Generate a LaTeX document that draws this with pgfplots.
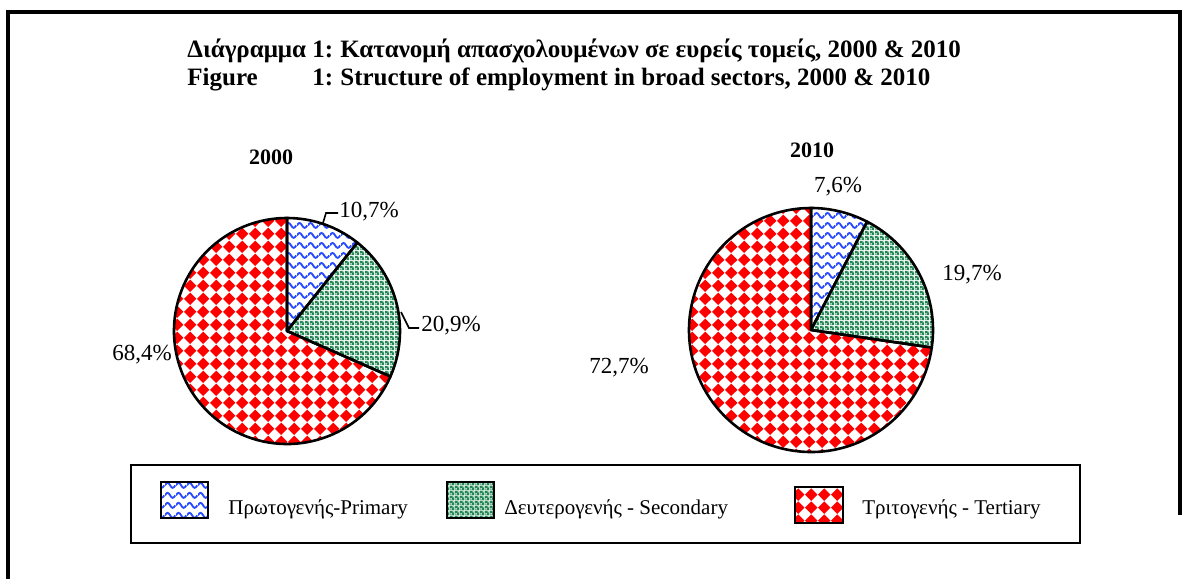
\documentclass[border=0pt]{standalone}
\usepackage{fontspec}
\setmainfont{Liberation Serif}
\usepackage{pgfplots}
\pgfplotsset{compat=1.18}
\usetikzlibrary{patterns}

\definecolor{pblue}{RGB}{40,75,255}
\definecolor{pgreen}{RGB}{35,135,85}
\definecolor{pred}{RGB}{255,0,0}

% wavy lines (primary)
\pgfdeclarepatternformonly{waves}{\pgfpointorigin}{\pgfpoint{5.5pt}{5pt}}{\pgfpoint{5.5pt}{5pt}}{%
  \pgfsetlinewidth{1pt}
  \pgfpathmoveto{\pgfpoint{0pt}{2.5pt}}
  \pgfpathcurveto{\pgfpoint{1pt}{4.3pt}}{\pgfpoint{1.75pt}{4.3pt}}{\pgfpoint{2.75pt}{2.5pt}}
  \pgfpathcurveto{\pgfpoint{3.75pt}{0.7pt}}{\pgfpoint{4.5pt}{0.7pt}}{\pgfpoint{5.5pt}{2.5pt}}
  \pgfusepath{stroke}}
% small checker board (secondary): green with small white holes
\pgfdeclarepatternformonly{checks}{\pgfpointorigin}{\pgfpoint{2.5pt}{2.5pt}}{\pgfpoint{2.5pt}{2.5pt}}{%
  \pgfseteorule
  \pgfpathrectangle{\pgfpointorigin}{\pgfpoint{2.5pt}{2.5pt}}
  \pgfpathrectangle{\pgfpoint{0.25pt}{0.25pt}}{\pgfpoint{0.8pt}{0.8pt}}
  \pgfpathrectangle{\pgfpoint{1.5pt}{1.5pt}}{\pgfpoint{0.8pt}{0.8pt}}
  \pgfusepath{fill}}
% diamonds (tertiary)
\pgfdeclarepatternformonly{diamonds}{\pgfpointorigin}{\pgfpoint{6.6pt}{6.6pt}}{\pgfpoint{6.6pt}{6.6pt}}{%
  \pgfpathmoveto{\pgfpoint{3.3pt}{0pt}}
  \pgfpathlineto{\pgfpoint{6.6pt}{3.3pt}}
  \pgfpathlineto{\pgfpoint{3.3pt}{6.6pt}}
  \pgfpathlineto{\pgfpoint{0pt}{3.3pt}}
  \pgfpathclose
  \pgfusepath{fill}}

\tikzset{
  prim/.style={pattern=waves, pattern color=pblue},
  seco/.style={pattern=checks, pattern color=pgreen},
  tert/.style={pattern=diamonds, pattern color=pred},
  wedge/.style={draw=black, line width=1.3pt, line join=round},
}
\pgfplotsset{pie/.style={hide axis, x=0.5pt, y=0.5pt, scale only axis,
  xmin=-130, xmax=130, ymin=-130, ymax=130, anchor=center, clip=false}}

% shares in percent: primary, secondary, tertiary
\def\pA{10.7}\def\sA{20.9}\def\tA{68.4}\def\rA{113}
\def\pB{7.6}\def\sB{19.7}\def\tB{72.7}\def\rB{122}

\begin{document}
\begin{tikzpicture}[x=0.5pt, y=0.5pt]
\useasboundingbox (0,0) rectangle (1187,579);

\pgfmathsetmacro\aA{90-3.6*\pA}
\pgfmathsetmacro\bA{\aA-3.6*\sA}
\pgfmathsetmacro\cA{\bA-3.6*\tA}
\pgfmathsetmacro\aB{90-3.6*\pB}
\pgfmathsetmacro\bB{\aB-3.6*\sB}
\pgfmathsetmacro\cB{\bB-3.6*\tB}

% outer frame
\draw[line width=1.6pt] (8,0) -- (8,567) -- (1180,567) -- (1180,64);

% titles
\begin{scope}[every node/.style={anchor=base west, inner sep=0pt, font=\fontsize{12.5}{15}\selectfont\bfseries}]
\node at (187,521) {Διάγραμμα};
\node at (312,521) {1:};
\node at (340,521) {Κατανομή απασχολουμένων σε ευρείς τομείς, 2000 \& 2010};
\node at (187,493) {Figure};
\node at (312,493) {1:};
\node at (340,493) {Structure of employment in broad sectors, 2000 \& 2010};
\end{scope}

% pie 2000
\begin{axis}[pie, at={(287,248)}]
\draw[wedge, prim] (axis cs:0,0) -- (axis cs:0,\rA) arc[start angle=90, end angle=\aA, radius=\rA*0.5pt] -- cycle;
\draw[wedge, seco] (axis cs:0,0) -- ++(\aA:\rA*0.5pt) arc[start angle=\aA, end angle=\bA, radius=\rA*0.5pt] -- cycle;
\draw[wedge, tert] (axis cs:0,0) -- ++(\bA:\rA*0.5pt) arc[start angle=\bA, end angle=\cA, radius=\rA*0.5pt] -- cycle;
\end{axis}

% pie 2010
\begin{axis}[pie, at={(811,249)}]
\draw[wedge, prim] (axis cs:0,0) -- (axis cs:0,\rB) arc[start angle=90, end angle=\aB, radius=\rB*0.5pt] -- cycle;
\draw[wedge, seco] (axis cs:0,0) -- ++(\aB:\rB*0.5pt) arc[start angle=\aB, end angle=\bB, radius=\rB*0.5pt] -- cycle;
\draw[wedge, tert] (axis cs:0,0) -- ++(\bB:\rB*0.5pt) arc[start angle=\bB, end angle=\cB, radius=\rB*0.5pt] -- cycle;
\end{axis}

% pie titles and value labels
\node[font=\fontsize{11}{13}\selectfont\bfseries] at (271,422) {2000};
\node[font=\fontsize{11}{13}\selectfont\bfseries] at (812,429) {2010};
\begin{scope}[every node/.style={font=\fontsize{11.5}{13}\selectfont, inner sep=0pt}]
\draw[line width=0.8pt] (323,356) -- (326,366) -- (338,366);
\node[anchor=west] at (339,367) {10,7\%};
\draw[line width=0.8pt] (401,267) -- (409,251) -- (419,251);
\node[anchor=west] at (421,253) {20,9\%};
\node at (142,224) {68,4\%};
\node at (838,392) {7,6\%};
\node at (972,304) {19,7\%};
\node at (619,211) {72,7\%};
\end{scope}

% legend
\draw[line width=1.1pt] (131,114) rectangle (1080,36);
\draw[line width=1pt, prim] (161,97) rectangle (208,61);
\draw[line width=1pt, seco] (447,97) rectangle (494,61);
\draw[line width=1pt, tert] (795,92) rectangle (843,56);
\begin{scope}[every node/.style={anchor=west, inner sep=0pt, font=\fontsize{10.5}{12}\selectfont}]
\node at (228,70) {Πρωτογενής-Primary};
\node at (504,70) {Δευτερογενής - Secondary};
\node at (862,70) {Τριτογενής - Tertiary};
\end{scope}
\end{tikzpicture}
\end{document}
